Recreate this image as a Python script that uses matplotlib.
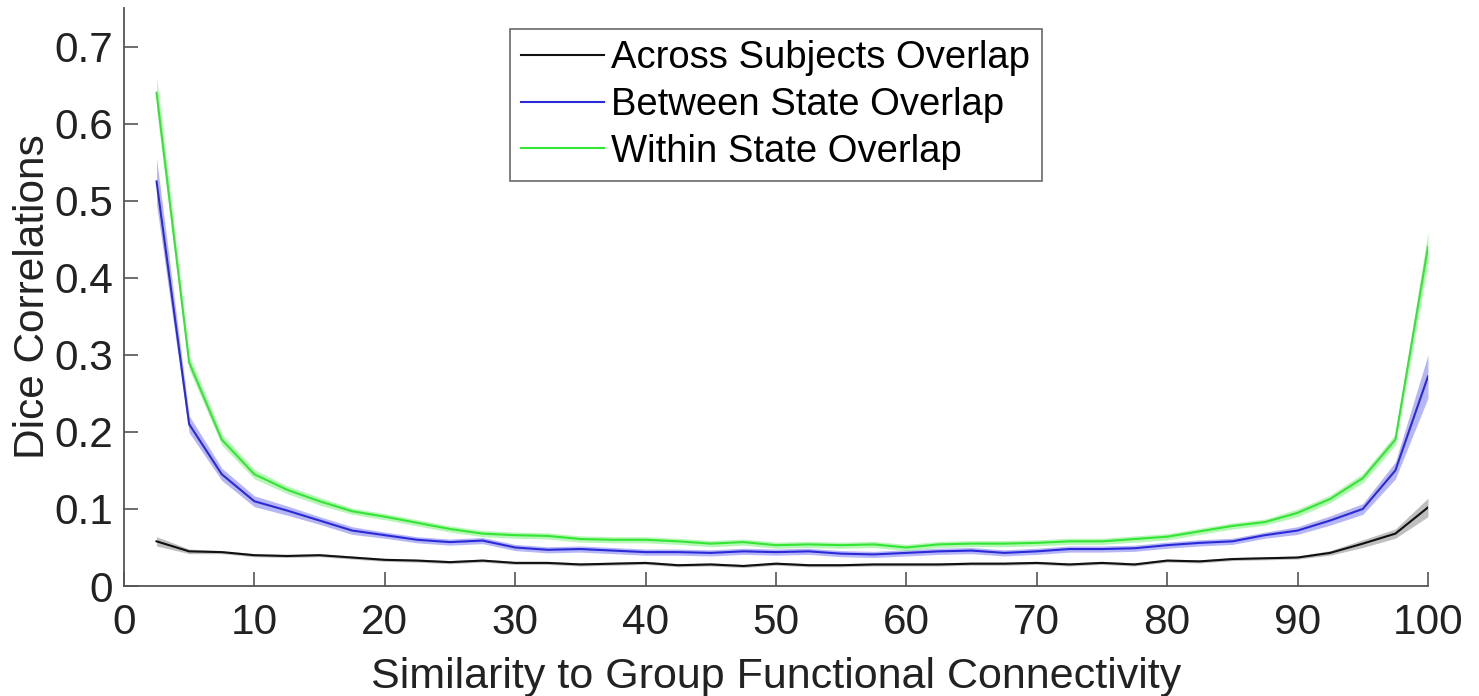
import numpy as np
import matplotlib.pyplot as plt

# Dice overlap vs similarity to group FC
sim = np.arange(2.5, 100.01, 2.5)

across = [0.058, 0.045, 0.044, 0.040, 0.039, 0.040, 0.037, 0.034, 0.033, 0.031,
          0.033, 0.030, 0.030, 0.028, 0.029, 0.030, 0.027, 0.028, 0.026, 0.029,
          0.027, 0.027, 0.028, 0.028, 0.028, 0.029, 0.029, 0.030, 0.028, 0.030,
          0.028, 0.033, 0.032, 0.035, 0.036, 0.037, 0.043, 0.055, 0.068, 0.102]
across_err = [0.006, 0.003, 0.002, 0.002, 0.002, 0.002, 0.002, 0.002, 0.002, 0.002,
              0.002, 0.002, 0.002, 0.002, 0.002, 0.002, 0.002, 0.002, 0.002, 0.002,
              0.002, 0.002, 0.002, 0.002, 0.002, 0.002, 0.002, 0.002, 0.002, 0.002,
              0.002, 0.002, 0.002, 0.002, 0.002, 0.002, 0.003, 0.005, 0.006, 0.012]

between = [0.525, 0.210, 0.145, 0.110, 0.098, 0.085, 0.072, 0.066, 0.060, 0.057,
           0.059, 0.050, 0.047, 0.048, 0.046, 0.044, 0.044, 0.043, 0.045, 0.044,
           0.045, 0.042, 0.041, 0.043, 0.045, 0.046, 0.043, 0.045, 0.048, 0.048,
           0.049, 0.053, 0.056, 0.058, 0.066, 0.072, 0.085, 0.100, 0.150, 0.272]
between_err = [0.030, 0.011, 0.008, 0.007, 0.006, 0.005, 0.005, 0.004, 0.004, 0.004,
               0.004, 0.004, 0.004, 0.004, 0.004, 0.004, 0.004, 0.004, 0.004, 0.004,
               0.004, 0.004, 0.004, 0.004, 0.004, 0.004, 0.004, 0.004, 0.004, 0.004,
               0.004, 0.004, 0.004, 0.004, 0.004, 0.005, 0.006, 0.007, 0.011, 0.028]

within = [0.640, 0.290, 0.190, 0.145, 0.125, 0.110, 0.097, 0.090, 0.082, 0.074,
          0.068, 0.066, 0.065, 0.061, 0.060, 0.060, 0.058, 0.055, 0.057, 0.053,
          0.054, 0.053, 0.054, 0.050, 0.054, 0.055, 0.055, 0.056, 0.058, 0.058,
          0.061, 0.064, 0.071, 0.078, 0.083, 0.095, 0.113, 0.140, 0.190, 0.440]
within_err = [0.020, 0.009, 0.007, 0.006, 0.005, 0.005, 0.004, 0.004, 0.004, 0.004,
              0.004, 0.004, 0.004, 0.004, 0.004, 0.004, 0.004, 0.004, 0.004, 0.004,
              0.004, 0.004, 0.004, 0.004, 0.004, 0.004, 0.004, 0.004, 0.004, 0.004,
              0.004, 0.004, 0.004, 0.004, 0.004, 0.005, 0.005, 0.006, 0.007, 0.020]

labels = ['Across Subjects Overlap', 'Between State Overlap', 'Within State Overlap']
colors = ['#111111', '#2a2ad8', '#33e633']
band_colors = ['#808080', '#6e6ef0', '#70ee70']

plt.rcParams['font.family'] = ['Liberation Sans', 'DejaVu Sans']

fig = plt.figure(figsize=(14.79, 6.96), dpi=100)
ax = fig.add_axes([0.0838, 0.158, 0.8817, 0.8305])

for y, e, c, bc, lab in zip([across, between, within], [across_err, between_err, within_err],
                            colors, band_colors, labels):
    y = np.array(y)
    e = np.array(e)
    ax.fill_between(sim, y - e, y + e, color=bc, alpha=0.5, linewidth=0)
    ax.plot(sim, y, color=c, linewidth=1.5, label=lab)

ax.set_xlim(0, 100)
ax.set_ylim(0, 0.75)
ax.set_xticks(np.arange(0, 101, 10))
ax.set_yticks(np.arange(0, 0.71, 0.1))
ax.set_yticklabels(['0', '0.1', '0.2', '0.3', '0.4', '0.5', '0.6', '0.7'])
ax.spines['top'].set_visible(False)
ax.spines['right'].set_visible(False)
for s in ['left', 'bottom']:
    ax.spines[s].set_color('#555555')
    ax.spines[s].set_linewidth(1.3)
ax.tick_params(direction='in', length=10, width=1.2, color='#555555',
               labelsize=30.5, labelcolor='#222222')
ax.tick_params(axis='x', pad=12)
ax.tick_params(axis='y', pad=8)

ax.set_xlabel('Similarity to Group Functional Connectivity', fontsize=31, color='#222222', labelpad=10)
ax.set_ylabel('Dice Correlations', fontsize=30.5, color='#222222', labelpad=1)

leg = ax.legend(loc='upper left', bbox_to_anchor=(0.296, 0.964), borderaxespad=0,
                fontsize=27.5, frameon=True, fancybox=False, handlelength=2.15,
                labelspacing=0.28, borderpad=0.3, handletextpad=0.2)
leg.get_frame().set_edgecolor('#444444')
leg.get_frame().set_linewidth(1.2)

fig.savefig('out.png', dpi=100)
